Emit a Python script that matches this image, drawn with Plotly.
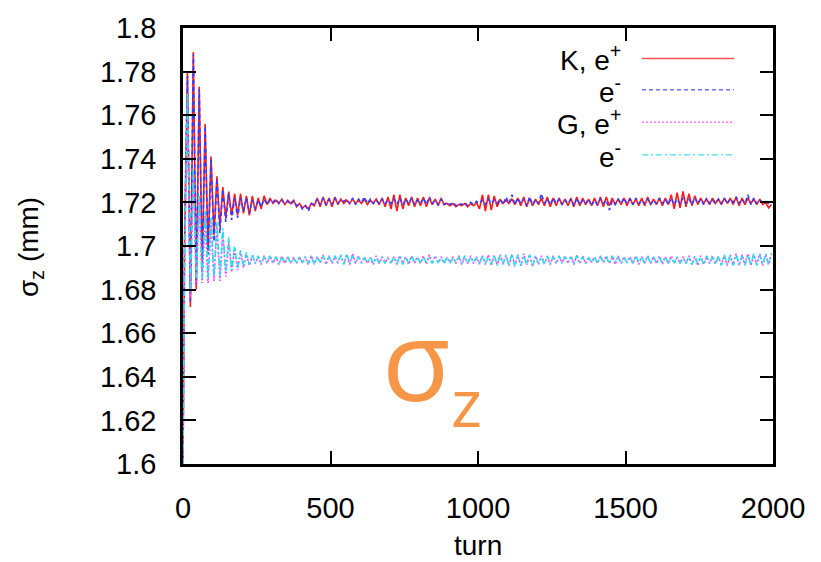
import plotly.graph_objects as go

# sample turns: 0, then every 10 turns starting at 5
turns = [0] + list(range(5, 2000, 10))

k_pos = [1.600,
    1.700, 1.780, 1.672, 1.789, 1.680, 1.773, 1.690, 1.756, 1.698, 1.741,
    1.705, 1.732, 1.709, 1.727, 1.713, 1.725, 1.714, 1.724, 1.714, 1.724,
    1.715, 1.723, 1.714, 1.723, 1.716, 1.722, 1.717, 1.723, 1.719, 1.722,
    1.7195, 1.721, 1.7195, 1.7215, 1.719, 1.721, 1.7195, 1.721, 1.718, 1.7195,
    1.7175, 1.7185, 1.717, 1.7195, 1.7185, 1.722, 1.718, 1.7225, 1.7185, 1.722,
    1.718, 1.7225, 1.719, 1.7215, 1.7195, 1.721, 1.7195, 1.7215, 1.7195, 1.721,
    1.7195, 1.7215, 1.719, 1.721, 1.7195, 1.7215, 1.719, 1.722, 1.718, 1.7225,
    1.717, 1.7235, 1.716, 1.7235, 1.717, 1.722, 1.7185, 1.7225, 1.718, 1.722,
    1.7185, 1.7225, 1.718, 1.722, 1.719, 1.7215, 1.7185, 1.722, 1.719, 1.7195,
    1.7185, 1.7195, 1.718, 1.719, 1.7185, 1.7195, 1.718, 1.7195, 1.7185, 1.720,
    1.717, 1.7235, 1.716, 1.7235, 1.7165, 1.723, 1.718, 1.7215, 1.7195, 1.721,
    1.7195, 1.7215, 1.719, 1.722, 1.7185, 1.7225, 1.718, 1.722, 1.7185, 1.7215,
    1.719, 1.722, 1.7185, 1.7225, 1.718, 1.722, 1.7185, 1.722, 1.719, 1.7215,
    1.7185, 1.722, 1.718, 1.7225, 1.7185, 1.722, 1.719, 1.7215, 1.7185, 1.722,
    1.7185, 1.7225, 1.718, 1.7225, 1.7185, 1.722, 1.719, 1.7215, 1.719, 1.722,
    1.7185, 1.722, 1.719, 1.7215, 1.7185, 1.722, 1.7185, 1.7225, 1.719, 1.7215,
    1.719, 1.722, 1.7185, 1.722, 1.719, 1.7235, 1.717, 1.7245, 1.7175, 1.725,
    1.718, 1.724, 1.7185, 1.723, 1.719, 1.722, 1.7195, 1.7215, 1.719, 1.722,
    1.7195, 1.7215, 1.719, 1.722, 1.7195, 1.722, 1.719, 1.7225, 1.7185, 1.722,
    1.719, 1.722, 1.7195, 1.7215, 1.719, 1.7215, 1.719, 1.720, 1.7175, 1.719]

k_neg = [1.600,
    1.698, 1.778, 1.674, 1.788, 1.682, 1.772, 1.689, 1.755, 1.696, 1.740,
    1.702, 1.731, 1.706, 1.726, 1.711, 1.724, 1.712, 1.722, 1.713, 1.722,
    1.716, 1.722, 1.715, 1.721, 1.717, 1.721, 1.718, 1.7215, 1.719, 1.721,
    1.720, 1.7215, 1.7195, 1.721, 1.7195, 1.7205, 1.719, 1.7205, 1.7185, 1.719,
    1.717, 1.7185, 1.716, 1.7195, 1.719, 1.7215, 1.719, 1.722, 1.719, 1.7215,
    1.719, 1.722, 1.7195, 1.721, 1.7205, 1.7215, 1.7195, 1.722, 1.719, 1.7215,
    1.720, 1.7225, 1.7195, 1.7215, 1.7195, 1.721, 1.7195, 1.7215, 1.7195, 1.721,
    1.7195, 1.7215, 1.719, 1.722, 1.719, 1.7215, 1.7195, 1.722, 1.719, 1.721,
    1.7195, 1.722, 1.719, 1.7225, 1.7195, 1.721, 1.719, 1.7215, 1.719, 1.720,
    1.719, 1.720, 1.7185, 1.7195, 1.719, 1.720, 1.7185, 1.720, 1.719, 1.7205,
    1.7195, 1.721, 1.719, 1.7215, 1.7195, 1.721, 1.7195, 1.7215, 1.719, 1.7225,
    1.7195, 1.7235, 1.719, 1.722, 1.7195, 1.7215, 1.7185, 1.7225, 1.719, 1.721,
    1.7195, 1.724, 1.7195, 1.7215, 1.719, 1.722, 1.7195, 1.7215, 1.719, 1.721,
    1.7195, 1.7215, 1.7185, 1.722, 1.719, 1.721, 1.7195, 1.7215, 1.7185, 1.721,
    1.719, 1.7215, 1.7195, 1.721, 1.7165, 1.7205, 1.719, 1.7215, 1.7195, 1.722,
    1.7195, 1.7215, 1.719, 1.722, 1.7195, 1.721, 1.7195, 1.7215, 1.719, 1.721,
    1.7195, 1.722, 1.7195, 1.7215, 1.719, 1.722, 1.719, 1.7215, 1.7195, 1.722,
    1.7195, 1.7215, 1.719, 1.722, 1.7195, 1.7215, 1.719, 1.722, 1.7195, 1.721,
    1.7195, 1.7215, 1.7195, 1.722, 1.7195, 1.7215, 1.720, 1.7225, 1.7195, 1.7215,
    1.7195, 1.7235, 1.719, 1.722, 1.7195, 1.721, 1.720, 1.7205, 1.7195, 1.7205]

g_pos = [1.600,
    1.690, 1.765, 1.676, 1.733, 1.682, 1.720, 1.683, 1.714, 1.683, 1.711,
    1.684, 1.709, 1.684, 1.706, 1.686, 1.702, 1.688, 1.699, 1.689, 1.697,
    1.690, 1.696, 1.691, 1.6955, 1.692, 1.695, 1.6915, 1.6955, 1.692, 1.6955,
    1.692, 1.695, 1.6915, 1.6955, 1.692, 1.695, 1.6925, 1.6945, 1.692, 1.695,
    1.692, 1.695, 1.6915, 1.6955, 1.692, 1.695, 1.6925, 1.696, 1.6915, 1.6955,
    1.692, 1.695, 1.6925, 1.6955, 1.692, 1.696, 1.6915, 1.6965, 1.692, 1.6955,
    1.6925, 1.695, 1.692, 1.6945, 1.6915, 1.6955, 1.692, 1.695, 1.6925, 1.6945,
    1.692, 1.695, 1.6915, 1.6955, 1.692, 1.695, 1.6915, 1.6955, 1.692, 1.695,
    1.692, 1.6955, 1.6915, 1.696, 1.692, 1.6955, 1.6925, 1.695, 1.692, 1.6945,
    1.6925, 1.695, 1.692, 1.6955, 1.6915, 1.695, 1.692, 1.6955, 1.692, 1.695,
    1.692, 1.6955, 1.6915, 1.696, 1.691, 1.6955, 1.6915, 1.696, 1.692, 1.6955,
    1.691, 1.696, 1.6915, 1.6955, 1.691, 1.6965, 1.6915, 1.696, 1.6905, 1.6955,
    1.6915, 1.6955, 1.692, 1.695, 1.6915, 1.6955, 1.692, 1.695, 1.6925, 1.6955,
    1.692, 1.6955, 1.6915, 1.696, 1.692, 1.6955, 1.692, 1.695, 1.6925, 1.695,
    1.692, 1.695, 1.6925, 1.6955, 1.692, 1.695, 1.6915, 1.6955, 1.692, 1.695,
    1.6925, 1.695, 1.692, 1.6955, 1.6915, 1.695, 1.692, 1.6955, 1.692, 1.695,
    1.692, 1.6955, 1.6915, 1.695, 1.692, 1.6955, 1.692, 1.6945, 1.6925, 1.695,
    1.692, 1.6955, 1.6915, 1.695, 1.691, 1.6955, 1.6915, 1.695, 1.692, 1.6955,
    1.692, 1.695, 1.6915, 1.6955, 1.691, 1.696, 1.6915, 1.6965, 1.691, 1.696,
    1.6915, 1.6965, 1.691, 1.696, 1.6915, 1.6965, 1.691, 1.696, 1.6915, 1.6965]

g_neg = [1.600,
    1.692, 1.770, 1.679, 1.736, 1.685, 1.723, 1.685, 1.716, 1.685, 1.713,
    1.686, 1.711, 1.686, 1.708, 1.688, 1.704, 1.689, 1.700, 1.690, 1.698,
    1.691, 1.697, 1.6915, 1.696, 1.692, 1.6955, 1.692, 1.695, 1.6925, 1.6955,
    1.6925, 1.695, 1.692, 1.6945, 1.6925, 1.695, 1.692, 1.6945, 1.6925, 1.695,
    1.6925, 1.695, 1.692, 1.6955, 1.6915, 1.695, 1.692, 1.6955, 1.692, 1.695,
    1.6925, 1.6955, 1.692, 1.696, 1.6915, 1.6965, 1.692, 1.6955, 1.6925, 1.695,
    1.692, 1.6945, 1.6925, 1.695, 1.692, 1.6945, 1.6925, 1.695, 1.692, 1.6945,
    1.6925, 1.695, 1.692, 1.6955, 1.6915, 1.695, 1.692, 1.6955, 1.6925, 1.695,
    1.692, 1.695, 1.6925, 1.6945, 1.692, 1.695, 1.6925, 1.6945, 1.692, 1.695,
    1.692, 1.6945, 1.6925, 1.695, 1.692, 1.6955, 1.692, 1.695, 1.6925, 1.6945,
    1.6915, 1.6955, 1.692, 1.695, 1.6915, 1.696, 1.691, 1.6955, 1.6915, 1.696,
    1.691, 1.6965, 1.6905, 1.696, 1.691, 1.6955, 1.6915, 1.696, 1.691, 1.6955,
    1.692, 1.695, 1.6915, 1.6955, 1.692, 1.695, 1.6925, 1.6955, 1.692, 1.695,
    1.6925, 1.695, 1.692, 1.6955, 1.6925, 1.695, 1.692, 1.6945, 1.6925, 1.695,
    1.692, 1.6955, 1.6925, 1.695, 1.692, 1.6955, 1.6925, 1.695, 1.692, 1.6945,
    1.6925, 1.695, 1.692, 1.6955, 1.6925, 1.695, 1.692, 1.6955, 1.692, 1.695,
    1.692, 1.6945, 1.6925, 1.695, 1.692, 1.6945, 1.6925, 1.695, 1.692, 1.6945,
    1.692, 1.695, 1.6915, 1.6955, 1.692, 1.695, 1.6915, 1.6955, 1.692, 1.695,
    1.6915, 1.6955, 1.691, 1.696, 1.6915, 1.6955, 1.691, 1.696, 1.6915, 1.6955,
    1.691, 1.696, 1.6915, 1.6965, 1.691, 1.696, 1.6915, 1.6965, 1.692, 1.6965]

series_names = ["K, e<sup>+</sup>", "e<sup>-</sup>", "G, e<sup>+</sup>", "e<sup>-</sup>"]
series_values = [k_pos, k_neg, g_pos, g_neg]
colors = ["#ff1a1a", "#3a3aff", "#ff40ff", "#22e0f0"]
legend_colors = ["#ff5050", "#7070ff", "#ff70ff", "#60e8f0"]
dashes = ["solid", "4px,3px", "2px,2px", "6px,3px,2px,3px"]

y_ticks = [1.6, 1.62, 1.64, 1.66, 1.68, 1.7, 1.72, 1.74, 1.76, 1.78, 1.8]
y_tick_text = ["1.6", "1.62", "1.64", "1.66", "1.68", "1.7", "1.72", "1.74", "1.76", "1.78", "1.8"]
x_ticks = [0, 500, 1000, 1500, 2000]
x_tick_text = ["0", "500", "1000", "1500", "2000"]

W, H = 821, 562
L, R, T, B = 183, 773, 20, 464

def px(x):
    return (x - L) / (R - L)

def py(y):
    return (B - y) / (B - T)

fig = go.Figure()
for name, vals, col, dash in zip(series_names, series_values, colors, dashes):
    fig.add_trace(go.Scatter(x=turns, y=vals, mode="lines", name=name,
                             line=dict(color=col, width=1.6, dash=dash),
                             showlegend=False))

font = "Liberation Sans, Arial, sans-serif"
annotations = []
shapes = []
leg_y = [51, 83, 116, 149]
for name, col, dash, yy in zip(series_names, legend_colors, dashes, leg_y):
    annotations.append(dict(x=px(623), y=py(yy), xref="paper", yref="paper",
                            text=name, showarrow=False, xanchor="right", yanchor="middle",
                            font=dict(family=font, size=28, color="black")))
    shapes.append(dict(type="line", xref="paper", yref="paper",
                       x0=px(642), x1=px(734), y0=py(yy), y1=py(yy),
                       line=dict(color=col, width=1.5, dash=dash)))

annotations.append(dict(x=px(31), y=py(243), xref="paper", yref="paper",
                        text="σ<sub>z</sub> (mm)", showarrow=False, textangle=-90,
                        xanchor="center", yanchor="middle",
                        font=dict(family=font, size=28, color="black")))
annotations.append(dict(x=px(478), y=py(547), xref="paper", yref="paper",
                        text="turn", showarrow=False, xanchor="center", yanchor="middle",
                        font=dict(family=font, size=28, color="black")))
annotations.append(dict(x=px(416), y=py(356), xref="paper", yref="paper",
                        text="σ", showarrow=False, xanchor="center", yanchor="middle",
                        font=dict(family="Open Sans, sans-serif", size=112, color="#f79646")))
annotations.append(dict(x=px(466), y=py(400), xref="paper", yref="paper",
                        text="z", showarrow=False, xanchor="center", yanchor="middle",
                        font=dict(family="Open Sans, sans-serif", size=66, color="#f79646")))

axis_common = dict(showline=True, linecolor="black", linewidth=2.5, mirror="ticks",
                   ticks="inside", ticklen=13, tickwidth=2, tickcolor="black",
                   showgrid=False, zeroline=False,
                   tickfont=dict(family=font, size=29, color="black"))

fig.update_layout(
    width=W, height=H,
    margin=dict(l=L, r=W - R, t=T, b=H - B, pad=0),
    paper_bgcolor="white", plot_bgcolor="white",
    xaxis=dict(range=[0, 2000], tickvals=x_ticks, ticktext=x_tick_text,
               ticklabelstandoff=16, **axis_common),
    yaxis=dict(range=[1.6, 1.8], tickvals=y_ticks, ticktext=y_tick_text,
               ticklabelstandoff=18, **axis_common),
    annotations=annotations, shapes=shapes,
    showlegend=False,
)

fig.write_html("out.html")
